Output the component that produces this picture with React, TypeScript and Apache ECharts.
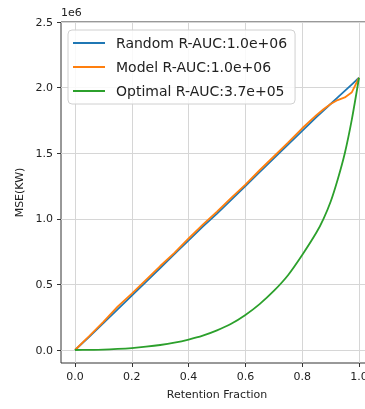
import React, { useEffect, useRef } from "react";
import * as echarts from "echarts";

// Retention fraction (x) and MSE values in units of 1e6
const retention = [0, 0.05, 0.1, 0.15, 0.2, 0.25, 0.3, 0.35, 0.4, 0.45, 0.5, 0.55, 0.6, 0.65, 0.7, 0.75, 0.8, 0.85, 0.875, 0.9, 0.925, 0.95, 0.975, 1.0];
const randomMse = [0, 0.1, 0.205, 0.31, 0.415, 0.52, 0.625, 0.73, 0.835, 0.94, 1.04, 1.145, 1.25, 1.355, 1.46, 1.565, 1.67, 1.775, 1.825, 1.875, 1.925, 1.975, 2.025, 2.075];
const modelMse = [0, 0.105, 0.215, 0.33, 0.43, 0.535, 0.64, 0.74, 0.85, 0.955, 1.055, 1.16, 1.26, 1.37, 1.475, 1.58, 1.69, 1.79, 1.835, 1.875, 1.905, 1.925, 1.965, 2.075];
const optimalMse = [0, 0.001, 0.003, 0.008, 0.015, 0.025, 0.038, 0.056, 0.08, 0.11, 0.15, 0.2, 0.267, 0.35, 0.45, 0.57, 0.724, 0.895, 1.0, 1.13, 1.3, 1.5, 1.76, 2.075];
const seriesNames = ["Random R-AUC:1.0e+06", "Model R-AUC:1.0e+06", "Optimal R-AUC:3.7e+05"];
const seriesColors = ["#1f77b4", "#ff7f0e", "#2ca02c"];
const xTicks = { min: 0, max: 1, interval: 0.2 };
const yTicks = { min: 0, max: 2.5, interval: 0.5 };

export default function App() {
  const ref = useRef<HTMLDivElement>(null);
  useEffect(() => {
    if (!ref.current) return;
    const chart = echarts.init(ref.current, null, { renderer: "svg" });
    const font = "DejaVu Sans";
    const txt = "#222";
    const grid = "#d6d6d6";
    const values = [randomMse, modelMse, optimalMse];
    const nb = { outerBoundsMode: "none", containLabel: false };
    chart.setOption({
      animation: false,
      textStyle: { fontFamily: font },
      grid: [
        { ...nb, left: 61, top: 22, width: 312, height: 328 },
        { ...nb, left: 75, top: 22, width: 284, height: 341 },
        { ...nb, left: 75, top: 22, width: 284, height: 328 },
        { ...nb, left: 61, top: 22, width: 312, height: 341, show: true, borderColor: "#333", borderWidth: 1, backgroundColor: "transparent" },
      ],
      xAxis: [
        { gridIndex: 0, type: "value", min: 0, max: 1, show: false },
        {
          gridIndex: 1, type: "value", min: xTicks.min, max: xTicks.max, interval: xTicks.interval,
          axisLine: { show: false },
          axisTick: { show: true, length: 4, lineStyle: { color: "#333" } },
          axisLabel: { color: txt, fontSize: 11, fontFamily: font, margin: 8, hideOverlap: false, formatter: (v: number) => v.toFixed(1) },
          splitLine: { show: true, lineStyle: { color: grid, width: 1 } },
        },
        { gridIndex: 2, type: "value", min: 0, max: 1, show: false },
        {
          gridIndex: 3, type: "value", min: -0.05, max: 1.05,
          axisLine: { show: false }, axisTick: { show: false }, axisLabel: { show: false }, splitLine: { show: false },
          name: "Retention Fraction", nameLocation: "middle", nameGap: 26,
          nameTextStyle: { color: txt, fontSize: 11, fontFamily: font },
        },
      ],
      yAxis: [
        {
          gridIndex: 0, type: "value", min: yTicks.min, max: yTicks.max, interval: yTicks.interval,
          axisLine: { show: false },
          axisTick: { show: true, length: 4, lineStyle: { color: "#333" } },
          axisLabel: { color: txt, fontSize: 11, fontFamily: font, margin: 8, formatter: (v: number) => v.toFixed(1) },
          splitLine: { show: true, lineStyle: { color: grid, width: 1 } },
        },
        { gridIndex: 1, type: "value", min: 0, max: 1, show: false },
        { gridIndex: 2, type: "value", min: yTicks.min, max: yTicks.max, show: false },
        {
          gridIndex: 3, type: "value", min: -0.1, max: 2.5,
          axisLine: { show: false }, axisTick: { show: false }, axisLabel: { show: false }, splitLine: { show: false },
          name: "MSE(KW)", nameLocation: "middle", nameGap: 36,
          nameTextStyle: { color: txt, fontSize: 11, fontFamily: font },
        },
      ],
      legend: {
        orient: "vertical",
        left: 68,
        top: 30,
        width: 239,
        padding: [5, 8, 5, 5],
        itemGap: 8,
        itemWidth: 32,
        itemHeight: 2,
        icon: "rect",
        backgroundColor: "rgba(255,255,255,0.85)",
        borderColor: "#d0d0d0",
        borderWidth: 1,
        borderRadius: 4,
        textStyle: { color: txt, fontSize: 14, fontFamily: font, lineHeight: 16, padding: [0, 0, 0, 6] },
        data: seriesNames,
      },
      graphic: [
        { type: "text", left: 61, top: 7, style: { text: "1e6", fill: txt, font: `11px "${font}"` } },
      ],
      series: seriesNames.map((name, i) => ({
        name,
        type: "line",
        xAxisIndex: 2,
        yAxisIndex: 2,
        showSymbol: false,
        symbol: "none",
        smooth: i === 2 ? 0.25 : false,
        color: seriesColors[i],
        lineStyle: { width: 1.8, color: seriesColors[i] },
        data: retention.map((x, j) => [x, values[i][j]]),
      })),
    });
    return () => chart.dispose();
  }, []);
  return <div ref={ref} style={{ position: "fixed", left: 0, top: 0, width: 365, height: 409 }} />;
}
